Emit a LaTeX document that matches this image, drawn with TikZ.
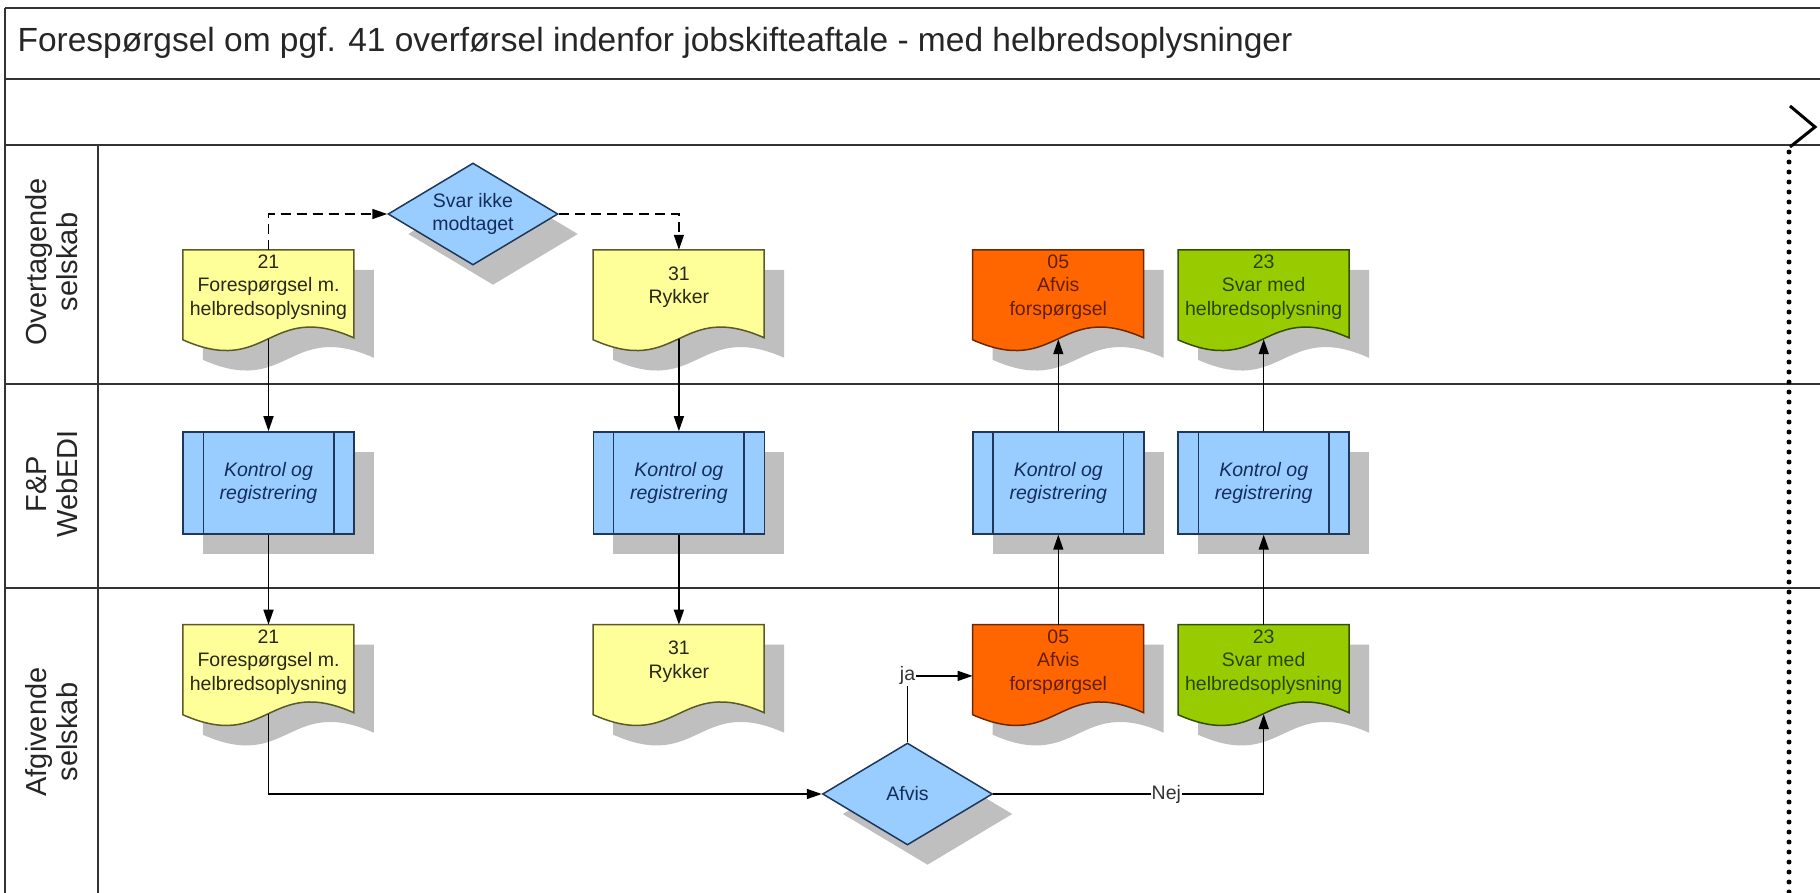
\documentclass[tikz,border=0pt]{standalone}
\usepackage{fontspec}
\setmainfont{Liberation Sans}
\usepackage{xcolor}
\definecolor{docyellow}{RGB}{255,255,153}
\definecolor{docorange}{RGB}{255,102,0}
\definecolor{docgreen}{RGB}{153,204,0}
\definecolor{procblue}{RGB}{153,204,255}
\definecolor{shadegray}{RGB}{191,191,191}
\definecolor{yellowline}{RGB}{90,90,40}
\definecolor{orangeline}{RGB}{110,40,0}
\definecolor{greenline}{RGB}{50,80,0}
\definecolor{blueline}{RGB}{30,55,90}
\definecolor{yellowtext}{RGB}{40,40,20}
\definecolor{orangetext}{RGB}{100,30,0}
\definecolor{greentext}{RGB}{40,70,0}
\definecolor{bluetext}{RGB}{20,45,90}
\usepackage{tikz}
\usetikzlibrary{
    arrows.meta,
    positioning,
    shapes.geometric,
    calc,
    backgrounds,
    shadows
}
\newcommand{\titlefont}{\fontsize{33.5}{40}\selectfont}
\newcommand{\lanefont}{\fontsize{29}{31}\selectfont}
\newcommand{\docfont}{\fontsize{19.5}{23.5}\selectfont}
% bølget bund til dokument-symbolet
\newcommand{\docoutline}[1]{(#1) -- ++(171,0) -- ++(0,88)
    .. controls ($(#1)+(85.5,50)$) and ($(#1)+(85.5,128)$) .. ($(#1)+(0,90)$) -- cycle}
\tikzstyle{doc} = [
    rectangle,
    minimum width=171pt,
    minimum height=74pt,
    inner sep=0pt,
    text centered,
    align=center,
    font=\docfont
]
\tikzstyle{proc} = [
    rectangle, draw=blueline,
    line width=1.5pt,
    fill=procblue,
    minimum width=171pt,
    minimum height=102pt,
    inner sep=0pt,
    align=center,
    font=\docfont\itshape,
    text=bluetext,
    drop shadow={shadow xshift=20pt, shadow yshift=-20pt, opacity=1, fill=shadegray}
]
\tikzstyle{jump} = [
    diamond,
    aspect=1.667,
    draw=blueline,
    line width=1.5pt,
    fill=procblue,
    minimum width=170pt,
    minimum height=102pt,
    inner sep=0pt,
    align=center,
    font=\docfont,
    text=bluetext,
    drop shadow={shadow xshift=20pt, shadow yshift=-20pt, opacity=1, fill=shadegray}
]
\tikzstyle{arrow} = [
    line width=1.5pt,
    -{Triangle[length=15pt, width=10pt]}
]
\tikzstyle{dasharrow} = [
    arrow,
    dash pattern=on 10pt off 6pt
]
\tikzstyle{lane} = [
    rotate=90,
    align=center,
    text=black!85,
    font=\lanefont
]
\tikzstyle{frame} = [
    line width=2.5pt,
    black!80
]
\tikzstyle{answer} = [
    fill=white,
    inner sep=1pt,
    text=black!80,
    font=\docfont
]

\begin{document}
\begin{tikzpicture}[x=1pt, y=-1pt]

\useasboundingbox (0,0) rectangle (1820,893);

% baner
\foreach \y in {8,79,145,384,588}
    \draw [frame] (5,\y) -- (1820,\y);
\draw [frame] (5,8) -- (5,893);
\draw [frame] (98,145) -- (98,893);

\node (title) [anchor=west, font=\titlefont, text=black!85] at (14,43)
    {Forespørgsel om pgf. 41 overførsel indenfor jobskifteaftale - med helbredsoplysninger};

\node (lane1) [lane] at (52,262) {Overtagende\\selskab};
\node (lane2) [lane] at (52,484) {F\&P\\WebEDI};
\node (lane3) [lane] at (52,732) {Afgivende\\selskab};

% slut-markering
\draw [line width=3pt] (1790,106) -- (1815,127) -- (1790,147);
\draw [line width=5pt, line cap=round, dash pattern=on 0pt off 10pt] (1789,152) -- (1789,893);

\node (a1) [doc, text=yellowtext] at (268.5,287)
    {21\\Forespørgsel m.\\helbredsoplysning};
\node (b1) [doc, text=yellowtext, right=239pt of a1]
    {31\\Rykker};
\node (c1) [doc, text=orangetext, right=208pt of b1]
    {05\\Afvis\\forspørgsel};
\node (d1) [doc, text=greentext, right=34pt of c1]
    {23\\Svar med\\helbredsoplysning};

\node (p1) [proc, below=107pt of a1] {Kontrol og\\registrering};
\node (p2) [proc, below=107pt of b1] {Kontrol og\\registrering};
\node (p3) [proc, below=107pt of c1] {Kontrol og\\registrering};
\node (p4) [proc, below=107pt of d1] {Kontrol og\\registrering};

\node (a3) [doc, text=yellowtext, below=90pt of p1]
    {21\\Forespørgsel m.\\helbredsoplysning};
\node (b3) [doc, text=yellowtext, below=90pt of p2]
    {31\\Rykker};
\node (c3) [doc, text=orangetext, below=90pt of p3]
    {05\\Afvis\\forspørgsel};
\node (d3) [doc, text=greentext, below=90pt of p4]
    {23\\Svar med\\helbredsoplysning};

\node (svar) [jump] at (473,214) {Svar ikke\\modtaget};
\node (afvis) [jump] at (907.5,794) {Afvis};

\foreach \nm in {p1,p2,p3,p4} {
    \draw [blueline, line width=1.5pt] ($(\nm.north west)+(21,0)$) -- ($(\nm.south west)+(21,0)$);
    \draw [blueline, line width=1.5pt] ($(\nm.north east)+(-21,0)$) -- ($(\nm.south east)+(-21,0)$);
}

\begin{scope}[on background layer]
\foreach \nm/\fc/\lc in {a1/docyellow/yellowline, b1/docyellow/yellowline,
        c1/docorange/orangeline, d1/docgreen/greenline,
        a3/docyellow/yellowline, b3/docyellow/yellowline,
        c3/docorange/orangeline, d3/docgreen/greenline} {
    \coordinate (sh) at ($(\nm.north west)+(20,20)$);
    \coordinate (tl) at (\nm.north west);
    \fill [shadegray] \docoutline{sh};
    \filldraw [fill=\fc, draw=\lc, line width=1.5pt] \docoutline{tl};
}
\end{scope}

\draw [dasharrow] (a1.north) |- (svar.west);
\draw [dasharrow] (svar.east) -| (b1.north);

\draw [arrow] ([yshift=-15pt]a1.south) -- (p1.north);
\draw [arrow] (p1.south) -- (a3.north);
\draw [arrow] ([yshift=-15pt]b1.south) -- (p2.north);
\draw [arrow] (p2.south) -- (b3.north);
\draw [arrow] (c3.north) -- (p3.south);
\draw [arrow] (p3.north) -- ([yshift=-15pt]c1.south);
\draw [arrow] (d3.north) -- (p4.south);
\draw [arrow] (p4.north) -- ([yshift=-15pt]d1.south);

% afgørelse
\draw [arrow] ([yshift=-15pt]a3.south) |- (afvis.west);
\draw [arrow] (afvis.north) |- node[answer] {ja} ([yshift=-14pt]c3.west);
\draw [arrow] (afvis.east) -| node[answer, pos=0.32] {Nej} ([yshift=-15pt]d3.south);

\end{tikzpicture}
\end{document}
